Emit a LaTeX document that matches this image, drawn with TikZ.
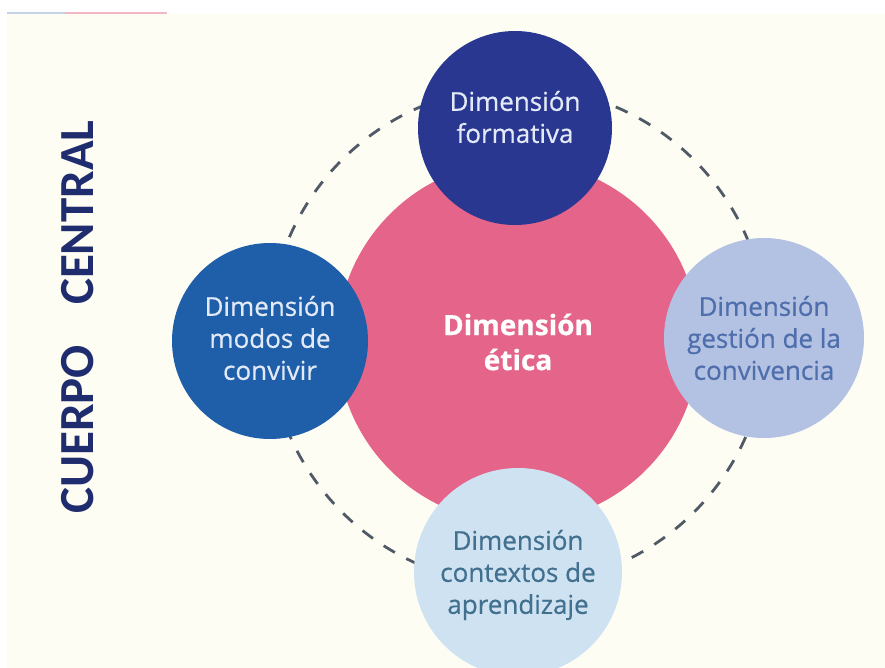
\documentclass[tikz,border=0pt]{standalone}
\usepackage{fontspec}
\setmainfont{Open Sans}[FakeBold=0.6]
\newfontfamily\titlefont{Carlito}
\definecolor{bgcream}{HTML}{FEFDF4}
\definecolor{stripblue}{HTML}{C6D4EA}
\definecolor{strippink}{HTML}{F3B6C4}
\definecolor{navy}{HTML}{2A3790}
\definecolor{midblue}{HTML}{1F5EA8}
\definecolor{rosa}{HTML}{E4648A}
\definecolor{periw}{HTML}{B3C2E3}
\definecolor{paleblue}{HTML}{CEE2F2}
\definecolor{dashgray}{HTML}{505A66}
\definecolor{titlenavy}{HTML}{1F2D6E}
\definecolor{lighttext}{HTML}{E2E9F7}
\definecolor{periwtext}{HTML}{4F6EAC}
\definecolor{paletext}{HTML}{42708F}
\tikzset{
  dim/.style={circle, draw=none, inner sep=0pt},
  dimtext/.style={align=center, font=\fontsize{26}{32}\selectfont, inner sep=0pt},
  ring/.style={draw=dashgray, line width=2.8pt, dash pattern=on 13pt off 13pt},
}
\begin{document}
\begin{tikzpicture}[x=1pt,y=-1pt]
\useasboundingbox (0,0) rectangle (885,668);
\fill[white] (0,0) rectangle (885,668);
\fill[bgcream] (7,14) rectangle (885,668);
\fill[stripblue] (7,12.5) rectangle (65,14.5);
\fill[strippink] (65,12.5) rectangle (167,14.5);

% title
\node[rotate=90, text=titlenavy, font=\titlefont\bfseries\fontsize{49}{54}\selectfont, inner sep=0pt] (title) at (78,317) {CUERPO\hspace{40pt}CENTRAL};

% dashed ring
\coordinate (ringc) at (518,336);
\draw[ring] (ringc) circle[radius=249];

% central circle
\node[dim, fill=rosa, minimum size=362pt] (etica) at (518,342) {};
\node[dimtext, text=white, font=\bfseries\fontsize{28}{35}\selectfont] (eticat) at (etica.center) {Dimensión\\ética};

% satellites
\node[dim, fill=navy, minimum size=194pt] (form) at (515,128) {};
\node[dimtext, text=lighttext] (formt) at ([yshift=11pt]form.center) {Dimensión\\formativa};

\node[dim, fill=midblue, minimum size=196pt] (modos) at (270,341) {};
\node[dimtext, text=lighttext] (modost) at ([yshift=3pt]modos.center) {Dimensión\\modos de\\convivir};

\node[dim, fill=periw, minimum size=200pt] (gest) at (764,338) {};
\node[dimtext, text=periwtext] (gestt) at (gest.center) {Dimensión\\gestión de la\\convivencia};

\node[dim, fill=paleblue, minimum size=208pt] (ctx) at (518,572) {};
\node[dimtext, text=paletext] (ctxt) at ([yshift=-3pt]ctx.center) {Dimensión\\contextos de\\aprendizaje};
\end{tikzpicture}
\end{document}
